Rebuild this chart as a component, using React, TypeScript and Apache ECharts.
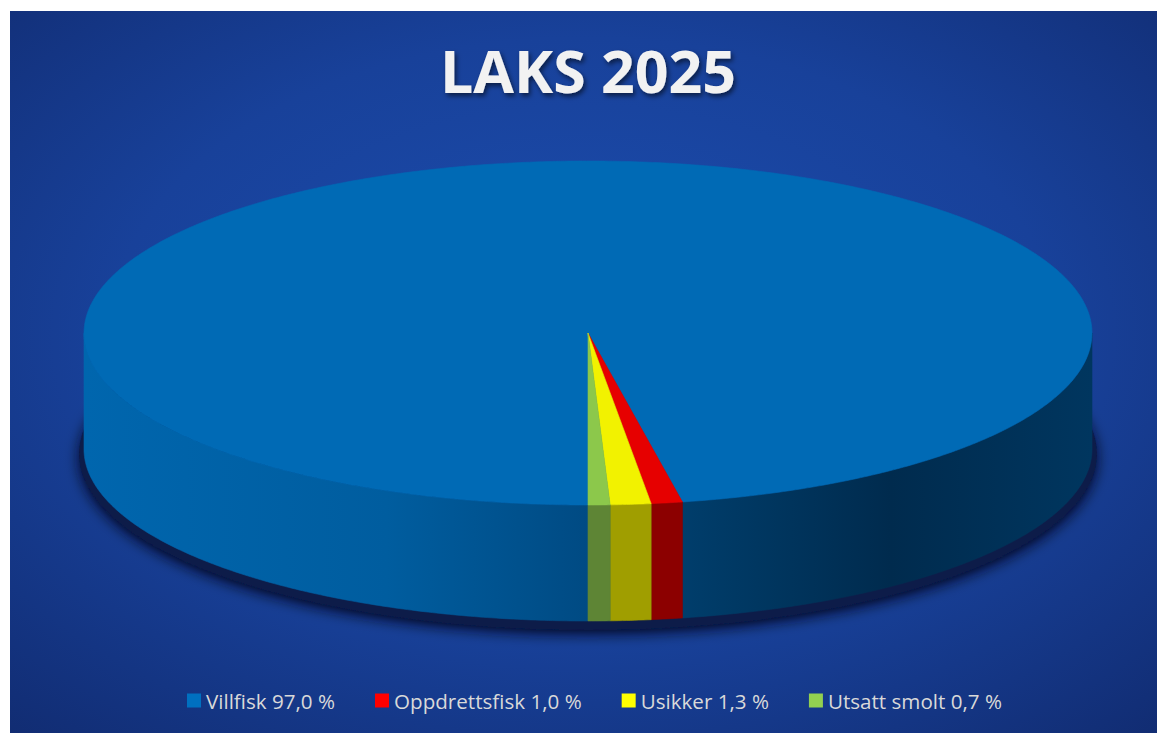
import React, { useEffect, useRef } from 'react';
import * as echarts from 'echarts';

const categories = ['Villfisk', 'Oppdrettsfisk', 'Usikker', 'Utsatt smolt'];
const values = [97.0, 1.0, 1.3, 0.7];
const valueLabels = ['97,0 %', '1,0 %', '1,3 %', '0,7 %'];
const legendColors = ['#0070C0', '#FF0000', '#FFFF00', '#92D050'];
const topColors = ['#006AB5', '#E60000', '#F2F200', '#8CC84B'];
const sideColors = ['#0058A0', '#8C0000', '#A09E00', '#5E8535'];
const titleText = 'LAKS 2025';

// layout of the pseudo-3D pie
const CX = 588;
const CY = 333;
const RX = 504;
const RY = 172;
const DEPTH = 116;

const total = values.reduce((a, b) => a + b, 0);

function pt(theta: number, dy: number): number[] {
  return [CX - RX * Math.sin(theta), CY + RY * Math.cos(theta) + dy];
}

function arc(a: number, b: number, dy: number): number[][] {
  const step = Math.PI / 360;
  const n = Math.max(2, Math.ceil((b - a) / step));
  const pts: number[][] = [];
  for (let i = 0; i <= n; i++) pts.push(pt(a + ((b - a) * i) / n, dy));
  return pts;
}

const blueSide = new echarts.graphic.LinearGradient(
  CX - RX, 0, CX + RX, 0,
  [
    { offset: 0, color: '#0066AE' },
    { offset: 0.3, color: '#005D9F' },
    { offset: 0.495, color: '#004B84' },
    { offset: 0.59, color: '#003E6C' },
    { offset: 0.8, color: '#002B4E' },
    { offset: 1, color: '#00365F' },
  ],
  true
);

function renderSlice(s: number) {
  return (params: any, api: any) => {
    const v = api.value(0);
    const before = values.slice(0, s).reduce((a, b) => a + b, 0);
    const a = (before / total) * Math.PI * 2;
    const b = a + (v / total) * Math.PI * 2;
    const children: any[] = [];
    const ranges = [
      [0, Math.PI / 2],
      [(Math.PI * 3) / 2, Math.PI * 2],
    ];
    for (const [r0, r1] of ranges) {
      const lo = Math.max(a, r0);
      const hi = Math.min(b, r1);
      if (hi > lo) {
        const topArc = arc(lo, hi, 0);
        const botArc = arc(lo, hi, DEPTH).reverse();
        const fill = s === 0 ? blueSide : sideColors[s];
        children.push({
          type: 'polygon',
          shape: { points: topArc.concat(botArc) },
          style: { fill, stroke: fill, lineWidth: 0.6 },
        });
      }
    }
    const topPts = [[CX, CY]].concat(arc(a, b, 0));
    children.push({
      type: 'polygon',
      shape: { points: topPts },
      style: { fill: topColors[s], stroke: topColors[s], lineWidth: 0.6 },
    });
    return { type: 'group', children };
  };
}

function renderShadow() {
  return {
    type: 'group',
    children: [
      {
        type: 'ellipse',
        shape: { cx: CX, cy: CY + DEPTH + 5, rx: RX + 5, ry: RY + 4 },
        style: {
          fill: '#0a1a48',
          shadowBlur: 14,
          shadowColor: 'rgba(0,3,25,0.9)',
          shadowOffsetY: 4,
          shadowOffsetX: 0,
        },
      },
    ],
  };
}

export default function App() {
  const ref = useRef<HTMLDivElement>(null);
  useEffect(() => {
    document.body.style.margin = '0';
    const chart = echarts.init(ref.current!, undefined, { renderer: 'svg' });
    const series: any[] = [
      {
        type: 'custom',
        name: 'shadow',
        coordinateSystem: 'none',
        z: 1,
        silent: true,
        data: [[1]],
        renderItem: renderShadow,
      },
    ];
    categories.forEach((c, i) => {
      series.push({
        type: 'custom',
        name: c,
        coordinateSystem: 'none',
        z: 2,
        itemStyle: { color: legendColors[i] },
        data: [[values[i]]],
        renderItem: renderSlice(i),
      });
    });
    chart.setOption({
      animation: false,
      backgroundColor: '#FFFFFF',
      graphic: [
        {
          type: 'rect',
          z: -10,
          silent: true,
          shape: { x: 10, y: 11, width: 1147, height: 722 },
          style: {
            fill: new echarts.graphic.RadialGradient(0.5, 0.45, 0.75, [
              { offset: 0, color: '#1C4EB0' },
              { offset: 0.55, color: '#18419A' },
              { offset: 1, color: '#112C72' },
            ]),
          },
        },
        {
          type: 'text',
          z: 20,
          x: 588,
          y: 70,
          style: {
            text: titleText,
            align: 'center',
            verticalAlign: 'middle',
            fontFamily: 'Open Sans',
            fontWeight: 'bold',
            fontSize: 59,
            fill: '#F2F2F2',
            textShadowColor: 'rgba(0,0,0,0.55)',
            textShadowBlur: 5,
            textShadowOffsetX: 2,
            textShadowOffsetY: 3,
          },
        },
      ],
      legend: {
        data: categories,
        left: 182,
        top: 685,
        icon: 'rect',
        itemWidth: 14,
        itemHeight: 14,
        itemGap: 40,
        formatter: (name: string) => `${name} ${valueLabels[categories.indexOf(name)]}`,
        textStyle: { color: '#D9D9D9', fontSize: 20.6, fontFamily: 'Open Sans' },
      },
      series,
    });
    return () => chart.dispose();
  }, []);
  return <div ref={ref} style={{ width: 1157, height: 733 }} />;
}
